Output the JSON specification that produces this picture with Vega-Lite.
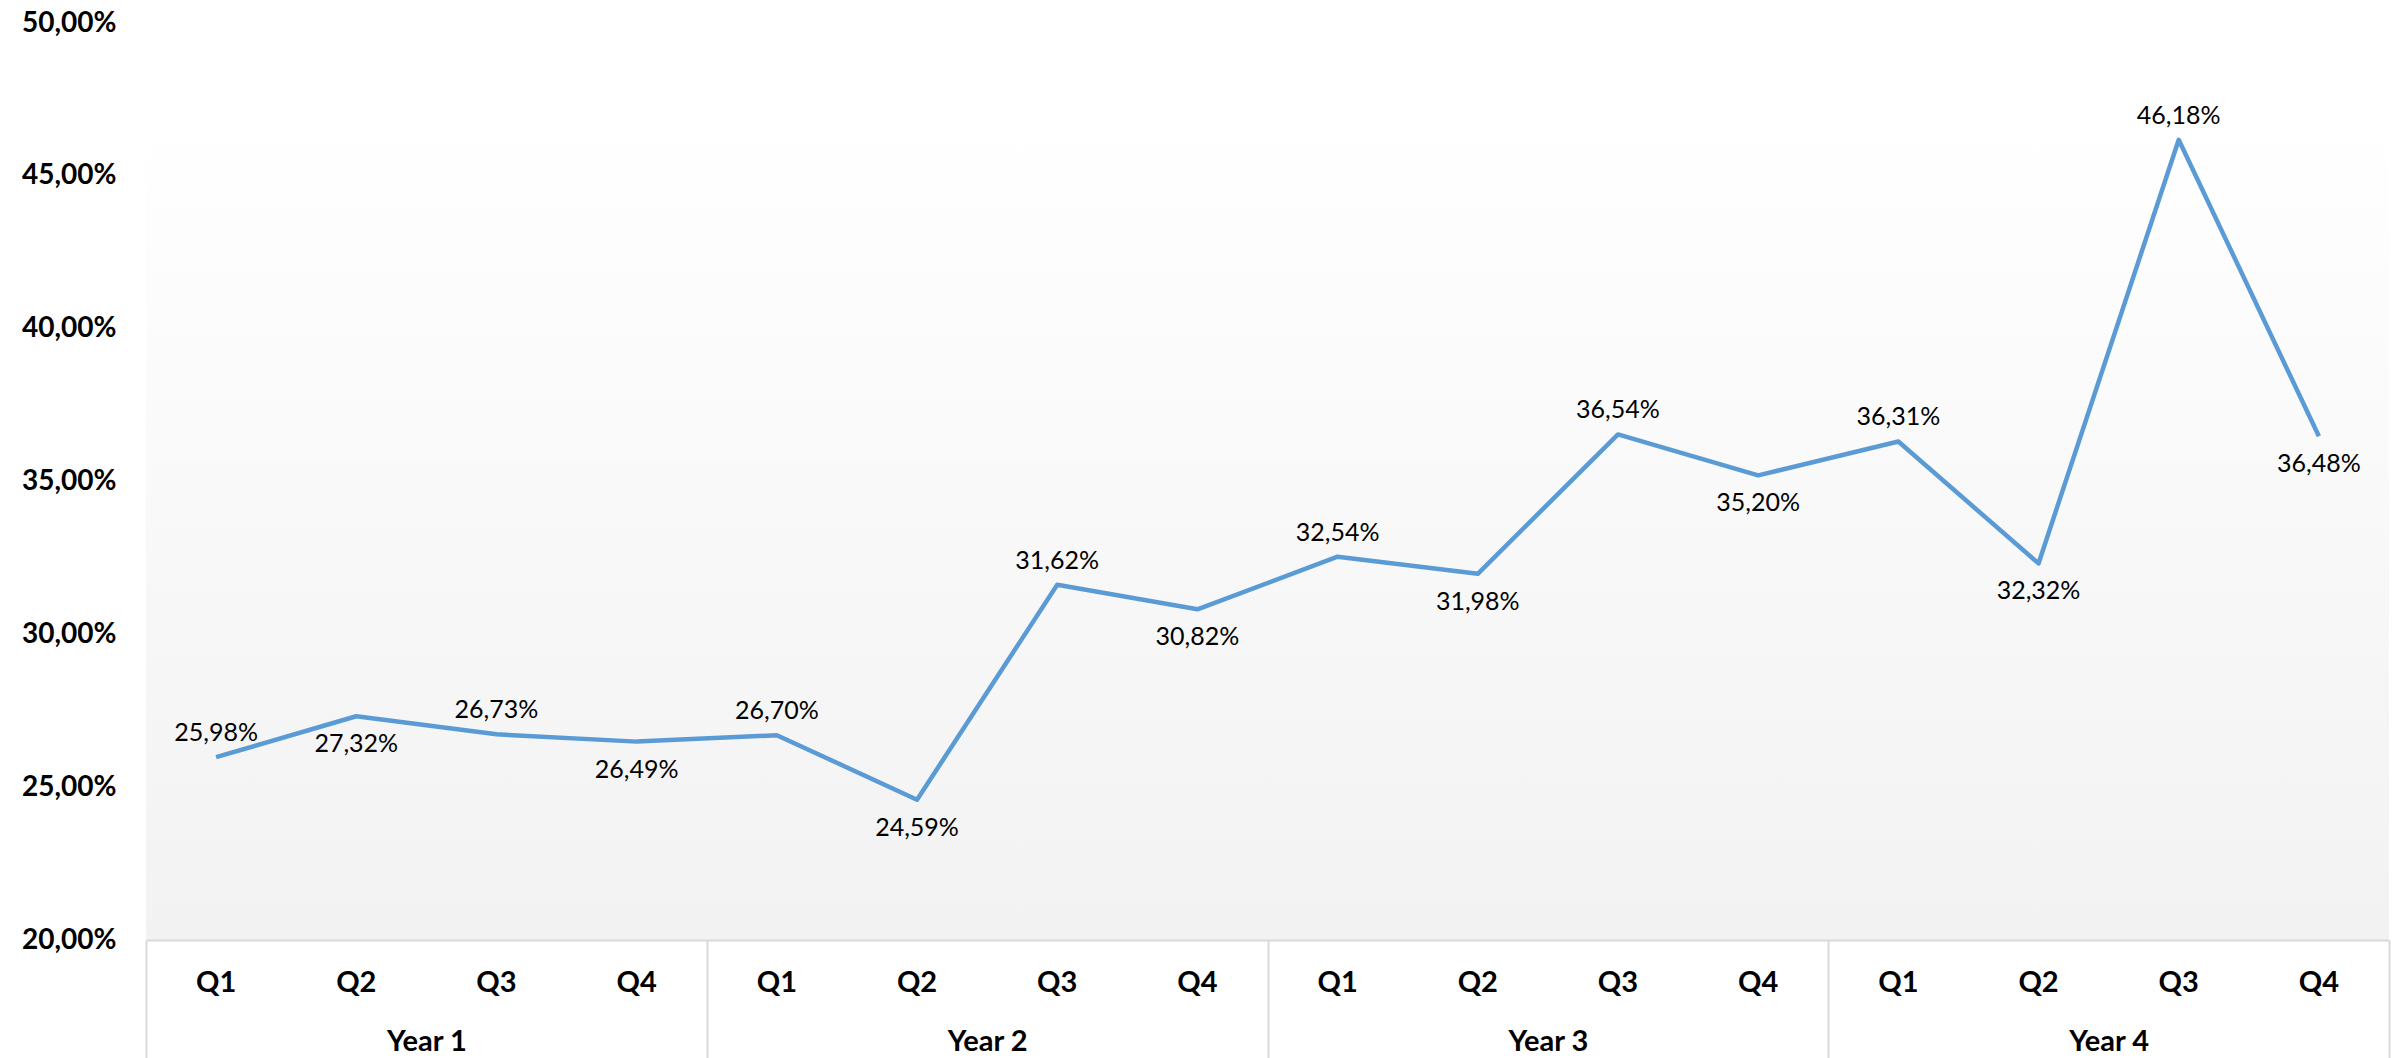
{
  "$schema": "https://vega.github.io/schema/vega-lite/v6.json",
  "width": 2243,
  "height": 917,
  "autosize": {"type": "none"},
  "padding": {"left": 146, "top": 23, "right": 3, "bottom": 118},
  "background": "#ffffff",
  "config": {
    "locale": {"number": {"decimal": ",", "thousands": ".", "grouping": [3], "currency": ["", " €"]}},
    "view": {
      "stroke": null,
      "fill": {
        "gradient": "linear",
        "x1": 0, "y1": 0, "x2": 0, "y2": 1,
        "stops": [
          {"offset": 0, "color": "#ffffff"},
          {"offset": 0.1, "color": "#ffffff"},
          {"offset": 1, "color": "#f2f2f2"}
        ]
      }
    },
    "axis": {"grid": false, "labelFont": "Lato", "labelFontWeight": "bold", "labelColor": "#000000", "title": null}
  },
  "data": {
    "values": [
      {"year": "Year 1", "q": "Q1", "key": "Year 1 Q1", "v": 0.2598},
      {"year": "Year 1", "q": "Q2", "key": "Year 1 Q2", "v": 0.2732},
      {"year": "Year 1", "q": "Q3", "key": "Year 1 Q3", "v": 0.2673},
      {"year": "Year 1", "q": "Q4", "key": "Year 1 Q4", "v": 0.2649},
      {"year": "Year 2", "q": "Q1", "key": "Year 2 Q1", "v": 0.2670},
      {"year": "Year 2", "q": "Q2", "key": "Year 2 Q2", "v": 0.2459},
      {"year": "Year 2", "q": "Q3", "key": "Year 2 Q3", "v": 0.3162},
      {"year": "Year 2", "q": "Q4", "key": "Year 2 Q4", "v": 0.3082},
      {"year": "Year 3", "q": "Q1", "key": "Year 3 Q1", "v": 0.3254},
      {"year": "Year 3", "q": "Q2", "key": "Year 3 Q2", "v": 0.3198},
      {"year": "Year 3", "q": "Q3", "key": "Year 3 Q3", "v": 0.3654},
      {"year": "Year 3", "q": "Q4", "key": "Year 3 Q4", "v": 0.3520},
      {"year": "Year 4", "q": "Q1", "key": "Year 4 Q1", "v": 0.3631},
      {"year": "Year 4", "q": "Q2", "key": "Year 4 Q2", "v": 0.3232},
      {"year": "Year 4", "q": "Q3", "key": "Year 4 Q3", "v": 0.4618},
      {"year": "Year 4", "q": "Q4", "key": "Year 4 Q4", "v": 0.3648}
    ]
  },
  "resolve": {"scale": {"x": "independent"}, "axis": {"x": "independent"}},
  "layer": [
    {
      "encoding": {
        "x": {
          "field": "key", "type": "nominal", "sort": null,
          "scale": {"type": "band", "paddingInner": 0, "paddingOuter": 0},
          "axis": {
            "orient": "bottom",
            "labelExpr": "slice(datum.label, -2)",
            "labelAngle": 0,
            "labelFontSize": 29,
            "labelBaseline": "alphabetic",
            "ticks": false,
            "tickSize": 0,
            "labelPadding": 51,
            "domain": true,
            "domainColor": "#d9d9d9",
            "domainWidth": 2
          }
        },
        "y": {
          "field": "v", "type": "quantitative",
          "scale": {"domain": [0.2, 0.5], "nice": false, "zero": false},
          "axis": {
            "values": [0.2, 0.25, 0.3, 0.35, 0.4, 0.45, 0.5],
            "format": ".2%",
            "labelFontSize": 28,
            "ticks": false,
            "domain": false,
            "labelPadding": 30
          }
        }
      },
      "layer": [
        {"mark": {"type": "line", "color": "#5b9bd5", "strokeWidth": 4.5, "strokeJoin": "round", "strokeCap": "butt"}},
        {
          "transform": [{"filter": "datum.q == 'Q1' || datum.q == 'Q3'"}],
          "mark": {"type": "text", "font": "Lato", "fontSize": 25, "color": "#000000", "dy": -24, "baseline": "middle"},
          "encoding": {"text": {"field": "v", "type": "quantitative", "format": ".2%"}}
        },
        {
          "transform": [{"filter": "datum.q == 'Q2' || datum.q == 'Q4'"}],
          "mark": {"type": "text", "font": "Lato", "fontSize": 25, "color": "#000000", "dy": 28, "baseline": "middle"},
          "encoding": {"text": {"field": "v", "type": "quantitative", "format": ".2%"}}
        }
      ]
    },
    {
      "mark": {"type": "point", "opacity": 0},
      "encoding": {
        "x": {
          "field": "year", "type": "nominal", "sort": null,
          "scale": {"type": "band", "paddingInner": 0, "paddingOuter": 0},
          "axis": {
            "orient": "bottom",
            "labelAngle": 0,
            "labelFontSize": 29,
            "labelBaseline": "alphabetic",
            "ticks": true,
            "tickBand": "extent",
            "tickSize": 118,
            "tickColor": "#d9d9d9",
            "tickWidth": 2,
            "labelPadding": -8,
            "domain": false
          }
        }
      }
    }
  ]
}
